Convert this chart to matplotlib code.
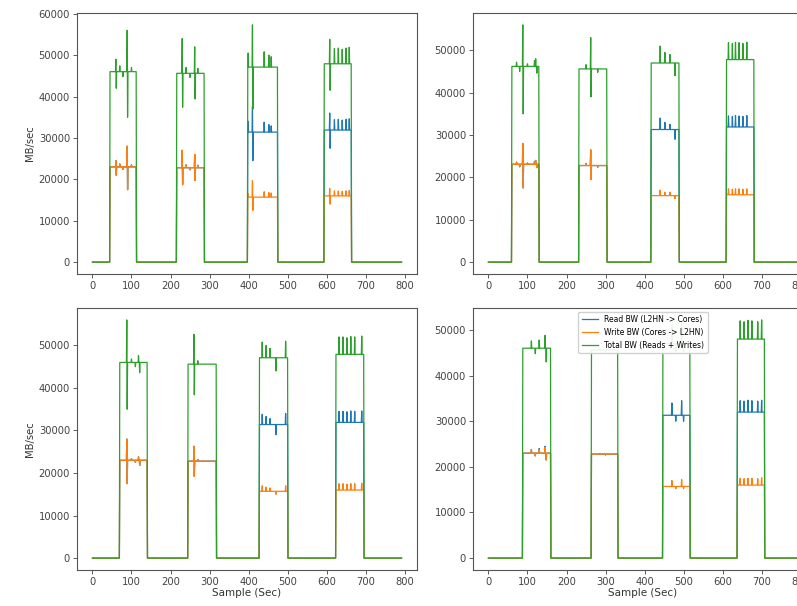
import numpy as np
import matplotlib
matplotlib.use("Agg")
import matplotlib.pyplot as plt

N_SAMPLES = 793  # samples 0..792, one per second

# --- panel data: burst (start, end), plateau levels, and spikes (sample, value) ---
TL_BURSTS = [(45, 112), (216, 286), (398, 474), (594, 663)]
TL_READ = [23000, 22800, 31400, 31900]
TL_WRITE = [23000, 22800, 15700, 16000]
TL_READ_SPIKES = [(60, 24500), (61, 21000), (70, 23700), (78, 22400), (89, 28000), (90, 17500),
                  (100, 23500), (230, 27000), (231, 18700), (240, 23500), (250, 22300),
                  (262, 26000), (263, 19700), (270, 23400), (399, 34000), (410, 37600),
                  (411, 24500), (440, 33800), (452, 33200), (458, 32900), (608, 36000),
                  (609, 27500), (620, 34400), (630, 34500), (640, 34300), (650, 34500),
                  (658, 34600)]
TL_WRITE_SPIKES = [(60, 24500), (61, 21000), (70, 23700), (78, 22400), (89, 28000), (90, 17500),
                   (100, 23500), (230, 27000), (231, 18700), (240, 23500), (250, 22300),
                   (262, 26000), (263, 19700), (270, 23400), (399, 16500), (410, 19700),
                   (411, 12500), (440, 17000), (452, 16800), (458, 16700), (608, 17800),
                   (609, 14000), (620, 17200), (630, 17200), (640, 17100), (650, 17200),
                   (658, 17300)]

TR_BURSTS = [(60, 129), (232, 303), (417, 488), (610, 680)]
TR_READ = [23100, 22800, 31300, 31900]
TR_WRITE = [23100, 22800, 15700, 15900]
TR_READ_SPIKES = [(72, 23600), (80, 22500), (88, 28000), (89, 17500), (100, 23400),
                  (118, 23800), (121, 24000), (124, 22300), (250, 23300), (262, 26500),
                  (263, 19500), (280, 22400), (440, 34000), (452, 33000), (465, 32500),
                  (478, 29000), (615, 34500), (625, 34400), (633, 34600), (642, 34500),
                  (652, 34400), (662, 34600)]
TR_WRITE_SPIKES = [(72, 23600), (80, 22500), (88, 28000), (89, 17500), (100, 23400),
                   (118, 23800), (121, 24000), (124, 22300), (250, 23300), (262, 26500),
                   (263, 19500), (280, 22400), (440, 17000), (452, 16500), (465, 16500),
                   (478, 15000), (615, 17300), (625, 17200), (633, 17300), (642, 17300),
                   (652, 17200), (662, 17300)]

BL_BURSTS = [(70, 140), (245, 317), (428, 500), (624, 695)]
BL_READ = [23000, 22800, 31400, 31900]
BL_WRITE = [23000, 22800, 15700, 16000]
BL_READ_SPIKES = [(88, 28000), (89, 17500), (100, 23400), (110, 22500), (118, 23800),
                  (121, 21800), (260, 26300), (261, 19200), (270, 23200), (435, 33800),
                  (445, 33300), (455, 32800), (470, 29000), (495, 34000), (632, 34500),
                  (642, 34500), (652, 34400), (662, 34600), (672, 34500), (690, 34600)]
BL_WRITE_SPIKES = [(88, 28000), (89, 17500), (100, 23400), (110, 22500), (118, 23800),
                   (121, 21800), (260, 26300), (261, 19200), (270, 23200), (435, 17000),
                   (445, 16700), (455, 16500), (470, 15000), (495, 17000), (632, 17500),
                   (642, 17500), (652, 17400), (662, 17500), (672, 17500), (690, 17600)]

BR_BURSTS = [(88, 159), (264, 331), (447, 516), (638, 707)]
BR_READ = [23000, 22800, 31300, 32000]
BR_WRITE = [23000, 22800, 15700, 16000]
BR_READ_SPIKES = [(110, 23800), (120, 22400), (130, 24000), (145, 24500), (148, 21500),
                  (285, 22900), (300, 22600), (470, 34000), (480, 30000), (495, 34500),
                  (500, 30000), (645, 34500), (655, 34400), (665, 34600), (675, 34500),
                  (690, 34400), (700, 34600)]
BR_WRITE_SPIKES = [(110, 23800), (120, 22400), (130, 23800), (145, 24300), (148, 21500),
                   (285, 22900), (300, 22600), (470, 17000), (480, 15200), (495, 17200),
                   (500, 15200), (645, 17500), (655, 17400), (665, 17500), (675, 17500),
                   (690, 17400), (700, 17600)]

LABELS = ["Read BW (L2HN -> Cores)", "Write BW (Cores -> L2HN)", "Total BW (Reads + Writes)"]

FIG_W, FIG_H = 797, 606
# axes boxes in pixels: left, top, width, height (right column runs past the edge)
BOXES = {
    "tl": (77, 13, 340, 261),
    "tr": (473, 13, 340, 261),
    "bl": (77, 308, 340, 262),
    "br": (473, 308, 340, 262),
}


def build_series(bursts, levels, spikes):
    y = np.zeros(N_SAMPLES)
    for (start, end), level in zip(bursts, levels):
        y[start:end + 1] = level
    for sample, value in spikes:
        y[sample] = value
    return y


def draw_panel(fig, key, bursts, read, write, read_spikes, write_spikes,
               ylabel=False, xlabel=False, legend=False):
    left, top, width, height = BOXES[key]
    ax = fig.add_axes([left / FIG_W, 1 - (top + height) / FIG_H, width / FIG_W, height / FIG_H])
    x = np.arange(N_SAMPLES)
    rd = build_series(bursts, read, read_spikes)
    wr = build_series(bursts, write, write_spikes)
    lw = 0.9
    ax.plot(x, rd, color="tab:blue", lw=lw, label=LABELS[0])
    ax.plot(x, wr, color="tab:orange", lw=lw, label=LABELS[1])
    ax.plot(x, rd + wr, color="tab:green", lw=lw, label=LABELS[2])
    ax.set_xticks(range(0, 801, 100))
    ax.tick_params(labelsize=7.2, length=3, width=0.6, pad=2, colors="#444444")
    for spine in ax.spines.values():
        spine.set_linewidth(0.8)
        spine.set_color("#555555")
    if ylabel:
        ax.set_ylabel("MB/sec", fontsize=7.2, labelpad=3, color="#333333")
    if xlabel:
        ax.set_xlabel("Sample (Sec)", fontsize=7.5, labelpad=1, color="#333333")
    if legend:
        ax.legend(loc="upper center", fontsize=5.5, handlelength=2.2,
                  borderaxespad=0.5, framealpha=0.9)
    return ax


fig = plt.figure(figsize=(FIG_W / 100, FIG_H / 100), dpi=100)
draw_panel(fig, "tl", TL_BURSTS, TL_READ, TL_WRITE, TL_READ_SPIKES, TL_WRITE_SPIKES, ylabel=True)
draw_panel(fig, "tr", TR_BURSTS, TR_READ, TR_WRITE, TR_READ_SPIKES, TR_WRITE_SPIKES)
draw_panel(fig, "bl", BL_BURSTS, BL_READ, BL_WRITE, BL_READ_SPIKES, BL_WRITE_SPIKES,
           ylabel=True, xlabel=True)
draw_panel(fig, "br", BR_BURSTS, BR_READ, BR_WRITE, BR_READ_SPIKES, BR_WRITE_SPIKES,
           xlabel=True, legend=True)
fig.savefig("out.png", dpi=100)
